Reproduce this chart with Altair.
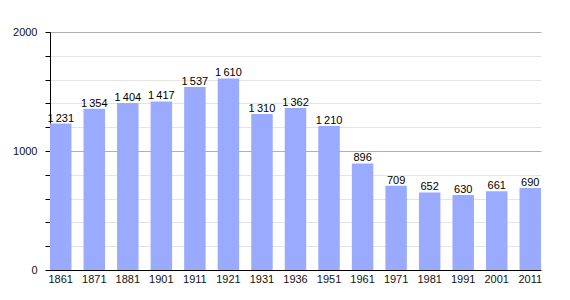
import altair as alt
import pandas as pd

years = ["1861", "1871", "1881", "1901", "1911", "1921", "1931", "1936", "1951",
         "1961", "1971", "1981", "1991", "2001", "2011"]
population = [1231, 1354, 1404, 1417, 1537, 1610, 1310, 1362, 1210,
              896, 709, 652, 630, 661, 690]
y_ticks = [0, 200, 400, 600, 800, 1000, 1200, 1400, 1600, 1800, 2000]

df = pd.DataFrame({
    "year": years,
    "pop": population,
    "label": [f"{v:,}".replace(",", "\u2009") for v in population],
})

FONT = "Liberation Sans"

x = alt.X("year:N", sort=years, title=None,
          scale=alt.Scale(paddingInner=0.36, paddingOuter=0),
          axis=alt.Axis(labelAngle=0, ticks=False, domainColor="black",
                        labelColor="#111", labelFontSize=11, labelFont=FONT,
                        labelPadding=3))

y = alt.Y("pop:Q", title=None,
          scale=alt.Scale(domain=[0, 2000], nice=False),
          axis=alt.Axis(values=y_ticks,
                        labelExpr="datum.value % 1000 == 0 ? datum.value : ''",
                        labelOverlap=False,
                        grid=True,
                        gridColor={"condition": {"test": "datum.value % 1000 == 0", "value": "#b0b0b0"},
                                   "value": "#e4e4e4"},
                        domainColor="black", tickColor="black", tickSize=5,
                        labelColor="#111", labelFontSize=11, labelFont=FONT,
                        labelPadding=8))

bars = alt.Chart(df).mark_bar(color="#99aaff").encode(x=x, y=y)
text = alt.Chart(df).mark_text(baseline="bottom", dy=0, fontSize=11, font=FONT,
                               color="black").encode(x=x, y=y, text="label:N")

chart = (bars + text).properties(
    width=491, height=238,
    autosize=alt.AutoSizeParams(type="none"),
    padding={"left": 50, "top": 32, "right": 29, "bottom": 30},
).configure_view(stroke=None)

chart.save("out.html", embed_options={"renderer": "svg", "actions": False})
